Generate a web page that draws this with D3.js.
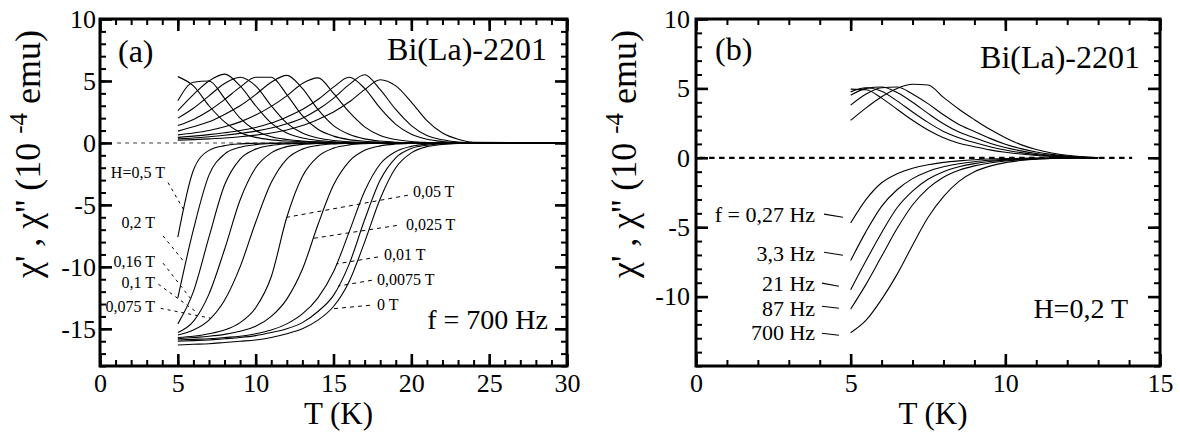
<!DOCTYPE html>
<html><head><meta charset="utf-8">
<script src="https://cdn.jsdelivr.net/npm/d3@7"></script>
<style>
body{margin:0;background:#fff}
</style>
</head><body>
<svg id="fig" width="1180" height="433"></svg>
<script>
// ---------------- DATA ----------------
// Panel (a): f = 700 Hz, various fields
const tempsA = [5,6,7,8,9,10,11,12,13,14,15,16,17,18,19,20,21,22,23,24,30];
const fieldsA = ["0,5 T","0,2 T","0,16 T","0,1 T","0,075 T","0,05 T","0,025 T","0,01 T","0,0075 T","0 T"];
// chi' (real part)
const chiReal_05T   = [-7.6,-2.2,-0.6,-0.22,-0.08,-0.03,0,0,0,0,0,0,0,0,0,0,0,0,0,0,0];
const chiReal_02T   = [-12.5,-7.0,-2.6,-0.9,-0.35,-0.14,-0.05,-0.02,0,0,0,0,0,0,0,0,0,0,0,0,0];
const chiReal_016T  = [-14.6,-12.0,-7.6,-3.4,-1.3,-0.5,-0.2,-0.08,-0.03,0,0,0,0,0,0,0,0,0,0,0,0];
const chiReal_01T   = [-15.3,-14.4,-12.2,-8.6,-4.6,-2.0,-0.8,-0.3,-0.12,-0.05,0,0,0,0,0,0,0,0,0,0,0];
const chiReal_0075T = [-15.5,-15.1,-14.3,-12.7,-10.0,-6.4,-3.2,-1.3,-0.5,-0.2,-0.08,-0.03,0,0,0,0,0,0,0,0,0];
const chiReal_005T  = [-15.7,-15.6,-15.4,-15.1,-14.5,-13.3,-10.8,-6.0,-2.7,-1.1,-0.42,-0.16,-0.06,-0.02,0,0,0,0,0,0,0];
const chiReal_0025T = [-15.8,-15.7,-15.6,-15.45,-15.2,-14.8,-14.0,-12.6,-10.2,-6.6,-3.4,-1.5,-0.6,-0.24,-0.09,-0.03,0,0,0,0,0];
const chiReal_001T  = [-15.9,-15.85,-15.8,-15.7,-15.6,-15.4,-15.1,-14.6,-13.8,-12.5,-10.4,-7.2,-3.9,-1.7,-0.7,-0.28,-0.1,-0.04,-0.01,0,0];
const chiReal_00075T= [-16.0,-15.95,-15.9,-15.8,-15.7,-15.55,-15.3,-15.0,-14.5,-13.6,-12.3,-9.8,-6.2,-3.0,-1.2,-0.45,-0.18,-0.07,-0.02,0,0];
const chiReal_0T    = [-16.3,-16.25,-16.2,-16.1,-16.0,-15.9,-15.7,-15.4,-15.0,-14.3,-13.2,-11.2,-8.0,-4.5,-2.0,-0.8,-0.3,-0.12,-0.04,-0.01,0];
// chi'' (imaginary part)
const chiImag_05T   = [5.35,4.6,3.0,1.7,0.85,0.45,0.25,0.15,0.1,0.06,0.03,0.01,0,0,0,0,0,0,0,0,0];
const chiImag_02T   = [3.4,4.9,5.0,3.6,2.0,1.0,0.5,0.28,0.16,0.09,0.05,0.02,0,0,0,0,0,0,0,0,0];
const chiImag_016T  = [2.6,3.9,5.0,5.55,4.6,3.0,1.6,0.8,0.4,0.2,0.1,0.05,0.02,0,0,0,0,0,0,0,0];
const chiImag_01T   = [2.0,2.8,3.8,4.8,5.3,4.6,3.0,1.6,0.8,0.4,0.2,0.1,0.05,0.02,0,0,0,0,0,0,0];
const chiImag_0075T = [1.4,1.9,2.6,3.5,4.5,5.3,5.3,3.9,2.2,1.1,0.55,0.27,0.13,0.06,0.02,0,0,0,0,0,0];
const chiImag_005T  = [0.95,1.3,1.7,2.3,3.0,3.9,4.9,5.45,4.4,2.7,1.4,0.7,0.33,0.15,0.06,0.02,0,0,0,0,0];
const chiImag_0025T = [0.65,0.8,1.0,1.3,1.7,2.25,2.95,3.8,4.8,5.25,4.0,2.5,1.3,0.6,0.27,0.11,0.04,0.01,0,0,0];
const chiImag_001T  = [0.45,0.55,0.67,0.82,1.0,1.25,1.6,2.1,2.7,3.5,4.5,5.3,4.4,2.8,1.5,0.7,0.3,0.12,0.04,0,0];
const chiImag_00075T= [0.33,0.4,0.5,0.62,0.77,0.95,1.2,1.55,2.0,2.7,3.6,4.7,5.5,4.3,2.7,1.4,0.6,0.25,0.08,0.02,0];
const chiImag_0T    = [0.22,0.27,0.33,0.4,0.5,0.63,0.8,1.05,1.4,1.9,2.5,3.3,4.3,5.1,4.6,3.3,1.8,0.8,0.3,0.05,0];

// Panel (b): H = 0.2 T, various frequencies
const tempsB = [5,5.5,6,6.5,7,7.5,8,8.5,9,9.5,10,10.5,11,11.5,12,12.5,13];
const freqsB = ["f = 0,27 Hz","3,3 Hz","21 Hz","87 Hz","700 Hz"];
const chiRealB_027 = [-4.7,-3.0,-1.8,-1.15,-0.75,-0.5,-0.33,-0.22,-0.14,-0.09,-0.06,-0.04,-0.02,-0.01,0,0,0];
const chiRealB_33  = [-7.4,-5.3,-3.5,-2.3,-1.5,-0.98,-0.65,-0.43,-0.28,-0.18,-0.11,-0.07,-0.04,-0.02,-0.01,0,0];
const chiRealB_21  = [-9.5,-7.4,-5.4,-3.6,-2.4,-1.55,-1.0,-0.65,-0.42,-0.27,-0.17,-0.1,-0.06,-0.03,-0.015,-0.005,0];
const chiRealB_87  = [-10.9,-9.1,-7.1,-5.1,-3.4,-2.2,-1.4,-0.9,-0.58,-0.37,-0.23,-0.14,-0.08,-0.04,-0.02,-0.01,0];
const chiRealB_700 = [-12.6,-11.7,-10.2,-8.4,-6.3,-4.3,-2.8,-1.7,-1.0,-0.6,-0.35,-0.2,-0.1,-0.05,-0.02,-0.01,0];
const chiImagB_027 = [4.95,4.9,4.3,3.5,2.7,2.0,1.45,1.05,0.8,0.57,0.4,0.27,0.17,0.1,0.05,0.02,0];
const chiImagB_33  = [4.75,5.05,4.8,4.1,3.3,2.55,1.9,1.45,1.1,0.8,0.56,0.37,0.23,0.13,0.07,0.03,0];
const chiImagB_21  = [4.5,5.0,5.1,4.7,4.0,3.2,2.45,1.85,1.45,1.05,0.74,0.5,0.31,0.18,0.09,0.04,0];
const chiImagB_87  = [3.8,4.6,5.05,5.1,4.6,3.9,3.1,2.4,1.9,1.4,0.98,0.66,0.42,0.25,0.13,0.06,0];
const chiImagB_700 = [2.7,3.6,4.4,5.0,5.3,5.25,4.35,3.5,2.75,2.05,1.45,0.95,0.6,0.35,0.18,0.07,0];

// Tick labels
const xTicksA = [0,5,10,15,20,25,30];
const yTicksA = [-15,-10,-5,0,5,10];
const xTicksB = [0,5,10,15];
const yTicksB = [-10,-5,0,5,10];

// Annotation anchors (data units): label pos, leader start, leader end
const leftLabelsA = [
  {t:"H=0,5 T", tx:4.17, ty:-2.85, s:[4.37,-3.2],  e:[5.4,-5.44]},
  {t:"0,2 T",   tx:3.53, ty:-6.88, s:[4.05,-7.5],  e:[5.5,-9.75]},
  {t:"0,16 T",  tx:3.53, ty:-10.03,s:[4.05,-9.7],  e:[5.8,-12.52]},
  {t:"0,1 T",   tx:3.53, ty:-11.73,s:[3.75,-11.4], e:[6.3,-13.74]},
  {t:"0,075 T", tx:3.53, ty:-13.67,s:[3.9,-13.35], e:[7.1,-14.14]}
];
const rightLabelsA = [
  {t:"0,05 T",   tx:20.1,  ty:-4.38, s:[19.78,-4.22], e:[12.0,-6.0]},
  {t:"0,025 T",  tx:19.65, ty:-7.05, s:[19.07,-6.66], e:[13.7,-7.7]},
  {t:"0,01 T",   tx:18.24, ty:-9.48, s:[17.86,-9.2],  e:[15.2,-9.76]},
  {t:"0,0075 T", tx:17.79, ty:-11.48,s:[17.47,-11.08],e:[15.3,-11.55]},
  {t:"0 T",      tx:17.79, ty:-13.5, s:[17.34,-13.1], e:[14.8,-13.4]}
];
const labelsB = [
  {tx:3.85, ty:-4.64,  s:[4.14,-4.06],  e:[4.75,-4.28]},
  {tx:3.85, ty:-7.45,  s:[4.14,-6.8],   e:[4.75,-7.02]},
  {tx:3.85, ty:-9.61,  s:[4.07,-9.03],  e:[4.62,-9.25]},
  {tx:3.85, ty:-11.41, s:[4.07,-10.69], e:[4.62,-10.84]},
  {tx:3.85, ty:-13.14, s:[4.07,-12.64], e:[4.62,-12.78]}
];

// ---------------- DRAW ----------------
const FONT = "'Liberation Serif'";
const svg = d3.select("#fig");

function setFont(sel, size){
  return sel.attr("font-family", "Liberation Serif").attr("font-size", size)
    .style("font-family", FONT).style("font-size", size + "px");
}

function panel(cfg){
  const x = d3.scaleLinear().domain(cfg.xDomain).range([cfg.left, cfg.right]);
  const y = d3.scaleLinear().domain(cfg.yDomain).range([cfg.bottom, cfg.top]);
  const g = svg.append("g");

  g.append("line")
    .attr("x1", x(cfg.zero[0])).attr("x2", x(cfg.zero[1]))
    .attr("y1", y(0)).attr("y2", y(0))
    .attr("stroke", cfg.zeroColor).attr("stroke-width", cfg.zeroWidth)
    .attr("stroke-dasharray", cfg.zeroDash);

  const line = d3.line()
    .x((d,i) => x(cfg.temps[i]))
    .y(d => y(d))
    .curve(d3.curveMonotoneX);
  cfg.series.forEach(s => {
    g.append("path").attr("d", line(s))
      .attr("fill","none").attr("stroke","#000").attr("stroke-width",1.1)
      .attr("stroke-linejoin","round");
  });

  const fmt = d => String(d);
  const mk = (axis, tr, vals, size, labels, pad) => {
    axis.tickValues(vals).tickSizeInner(-size).tickSizeOuter(0).tickPadding(pad)
      .tickFormat(labels ? fmt : () => "");
    const gg = g.append("g").attr("transform", tr).call(axis);
    setFont(gg, 26);
    gg.select(".domain").remove();
    gg.selectAll("line").attr("stroke","#000").attr("stroke-width", size > 8 ? 2.6 : 2);
    setFont(gg.selectAll("text"), 26).attr("fill","#000");
    if (!labels) gg.selectAll("text").remove();
  };
  const xMinor = d3.range(cfg.xDomain[0], cfg.xDomain[1] + 1, 1);
  const yMinor = d3.range(cfg.yDomain[0], cfg.yDomain[1] + 1, 1);
  mk(d3.axisBottom(x), `translate(0,${cfg.bottom})`, xMinor, 6, false, 0);
  mk(d3.axisBottom(x), `translate(0,${cfg.bottom})`, cfg.xTicks, 12, true, 8);
  mk(d3.axisTop(x), `translate(0,${cfg.top})`, xMinor, 6, false, 0);
  mk(d3.axisTop(x), `translate(0,${cfg.top})`, cfg.xTicks, 12, false, 0);
  mk(d3.axisLeft(y), `translate(${cfg.left},0)`, yMinor, 6, false, 0);
  mk(d3.axisLeft(y), `translate(${cfg.left},0)`, cfg.yTicks, 12, true, cfg.yPad);
  mk(d3.axisRight(y), `translate(${cfg.right},0)`, yMinor, 6, false, 0);
  mk(d3.axisRight(y), `translate(${cfg.right},0)`, cfg.yTicks, 12, false, 0);

  g.append("rect")
    .attr("x", cfg.left).attr("y", cfg.top)
    .attr("width", cfg.right - cfg.left).attr("height", cfg.bottom - cfg.top)
    .attr("fill","none").attr("stroke","#000").attr("stroke-width",3);

  setFont(g.append("text"), 31)
    .attr("x", (cfg.left + cfg.right)/2 + cfg.xTitleShift).attr("y", 424)
    .attr("text-anchor","middle").text("T (K)");
  const yt = setFont(g.append("text"), 36)
    .attr("transform", `translate(${cfg.left - 60},154) rotate(-90)`)
    .attr("text-anchor","middle");
  yt.append("tspan").text("\u03C7' , \u03C7'' (10 ");
  setFont(yt.append("tspan"), 25).attr("dy",-13).text("-4");
  yt.append("tspan").attr("dy",13).text(" emu)");

  return {g, x, y};
}

const A = panel({
  left:100, right:567, top:19, bottom:366,
  xDomain:[0,30], yDomain:[-18,10],
  xTicks:xTicksA, yTicks:yTicksA, yPad:4, xTitleShift:5,
  temps:tempsA,
  series:[chiReal_05T,chiReal_02T,chiReal_016T,chiReal_01T,chiReal_0075T,chiReal_005T,chiReal_0025T,chiReal_001T,chiReal_00075T,chiReal_0T,
          chiImag_05T,chiImag_02T,chiImag_016T,chiImag_01T,chiImag_0075T,chiImag_005T,chiImag_0025T,chiImag_001T,chiImag_00075T,chiImag_0T],
  zero:[1.1,24], zeroColor:"#808080", zeroWidth:1.6, zeroDash:"4,4"
});

const B = panel({
  left:696, right:1160, top:19, bottom:366,
  xDomain:[0,15], yDomain:[-15,10],
  xTicks:xTicksB, yTicks:yTicksB, yPad:6, xTitleShift:5,
  temps:tempsB,
  series:[chiRealB_027,chiRealB_33,chiRealB_21,chiRealB_87,chiRealB_700,
          chiImagB_027,chiImagB_33,chiImagB_21,chiImagB_87,chiImagB_700],
  zero:[0.1,14.1], zeroColor:"#000", zeroWidth:2.2, zeroDash:"5.5,4.5"
});

function txt(g, x, y, s, size, anchor){
  return setFont(g.append("text"), size).attr("x",x).attr("y",y)
    .attr("text-anchor",anchor||"start").attr("fill","#000").text(s);
}

txt(A.g, 118, 62, "(a)", 32);
txt(A.g, 547, 60, "Bi(La)-2201", 32, "end");
txt(A.g, 548, 329, "f = 700 Hz", 28, "end");
leftLabelsA.forEach(L => {
  txt(A.g, A.x(L.tx), A.y(L.ty), L.t, 16, "end");
  A.g.append("line").attr("x1",A.x(L.s[0])).attr("y1",A.y(L.s[1]))
    .attr("x2",A.x(L.e[0])).attr("y2",A.y(L.e[1]))
    .attr("stroke","#000").attr("stroke-width",1).attr("stroke-dasharray","3,4");
});
rightLabelsA.forEach(L => {
  txt(A.g, A.x(L.tx), A.y(L.ty), L.t, 16, "start");
  A.g.append("line").attr("x1",A.x(L.s[0])).attr("y1",A.y(L.s[1]))
    .attr("x2",A.x(L.e[0])).attr("y2",A.y(L.e[1]))
    .attr("stroke","#000").attr("stroke-width",1).attr("stroke-dasharray","4,4");
});

txt(B.g, 715, 60, "(b)", 32);
txt(B.g, 1140, 68, "Bi(La)-2201", 32, "end");
txt(B.g, 1128, 318, "H=0,2 T", 28, "end");
labelsB.forEach((L,i) => {
  txt(B.g, B.x(L.tx), B.y(L.ty), freqsB[i], 22, "end");
  B.g.append("line").attr("x1",B.x(L.s[0])).attr("y1",B.y(L.s[1]))
    .attr("x2",B.x(L.e[0])).attr("y2",B.y(L.e[1]))
    .attr("stroke","#000").attr("stroke-width",1.1);
});
</script>
</body></html>
